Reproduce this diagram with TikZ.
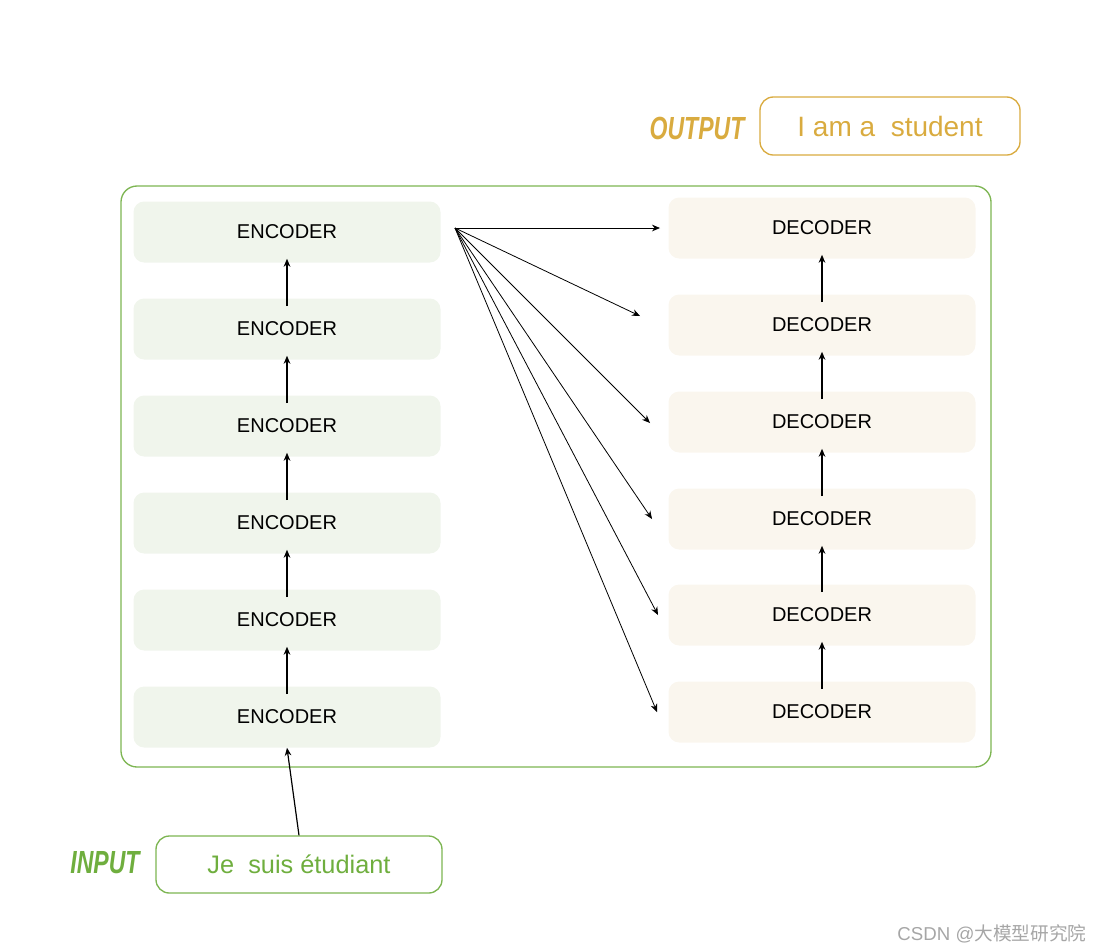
\documentclass[tikz,border=0pt]{standalone}
\usepackage{fontspec}
\setmainfont{Liberation Sans}
\newfontfamily\cjk{Noto Sans CJK SC}
\usetikzlibrary{arrows.meta}
\definecolor{egreen}{HTML}{F0F5EC}
\definecolor{dbeige}{HTML}{FAF6EE}
\definecolor{gline}{HTML}{7DB552}
\definecolor{gtext}{HTML}{6FAE3E}
\definecolor{gold}{HTML}{D9AB3F}
\begin{document}
\begin{tikzpicture}[x=0.75pt,y=-0.75pt,
  enc/.style={fill=egreen,rounded corners=8pt,minimum width=307*0.75pt,minimum height=61*0.75pt,font=\fontsize{15}{18}\selectfont,inner sep=0},
  dec/.style={fill=dbeige,rounded corners=8pt,minimum width=307*0.75pt,minimum height=61*0.75pt,font=\fontsize{15}{18}\selectfont,inner sep=0},
  up/.style={-{Stealth[length=6pt,width=5pt]},line width=0.9pt},
  fan/.style={-{Stealth[length=6pt,width=5pt]},line width=0.6pt},
  lab/.style={font=\fontsize{24}{28}\selectfont\bfseries\itshape}]
\useasboundingbox (0,0) rectangle (1096,951);
\draw[gline,line width=1pt,rounded corners=12pt] (121,186) rectangle (991,767);
\foreach \i/\y in {1/717,2/620,3/523,4/426,5/329,6/232}{\node[enc] (e\i) at (287,\y) {ENCODER};}
\foreach \i/\y in {1/712,2/615,3/519,4/422,5/325,6/228}{\node[dec] (d\i) at (822,\y) {DECODER};}
\foreach \a/\b in {1/2,2/3,3/4,4/5,5/6}{
  \draw[up] ([yshift=-6pt]e\a.north) -- ([yshift=3pt]e\b.south);
  \draw[up] ([yshift=-6pt]d\a.north) -- ([yshift=3pt]d\b.south);}
\coordinate (f) at (455,228);
\coordinate (t6) at (660,228);
\coordinate (t5) at (640,316);
\coordinate (t4) at (650,423);
\coordinate (t3) at (652,519);
\coordinate (t2) at (658,615);
\coordinate (t1) at (657,712);
\foreach \i in {1,...,6}{\draw[fan] (f) -- (t\i);}
\node[draw=gline,line width=1pt,rounded corners=10pt,minimum width=286*0.75pt,minimum height=57*0.75pt,text=gtext,font=\fontsize{19}{22}\selectfont] (in) at (299,864.5) {Je\ \ suis étudiant};
\node[draw=gold,line width=1pt,rounded corners=10pt,minimum width=260*0.75pt,minimum height=58*0.75pt,text=gold,font=\fontsize{21}{24}\selectfont] (out) at (890,126) {I am a\ \ student};
\draw[up] (in.north) -- (e1.south);
\node[lab,text=gtext,xscale=0.72] (inl) at (105,863) {INPUT};
\node[lab,text=gold,xscale=0.72] (outl) at (697,128) {OUTPUT};
\node[text=gray!70,font=\fontsize{14}{16}\selectfont] (wm) at (992,934) {CSDN @{\cjk 大模型研究院}};
\end{tikzpicture}
\end{document}
